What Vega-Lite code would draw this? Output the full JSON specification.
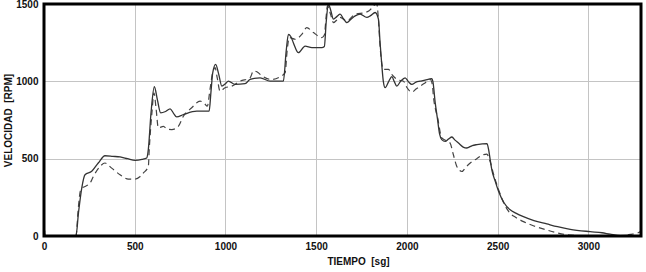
{
  "$schema": "https://vega.github.io/schema/vega-lite/v6.json",
  "width": 597,
  "height": 232,
  "autosize": {"type": "none"},
  "padding": {"left": 44, "top": 4, "right": 5, "bottom": 36},
  "background": "white",
  "config": {
    "view": {"stroke": null},
    "font": "Liberation Sans"
  },
  "datasets": {
    "solid": [
      {"t":0,"v":65},{"t":8,"v":0},{"t":176,"v":0},{"t":190,"v":150},{"t":208,"v":310},{"t":226,"v":396},{"t":263,"v":418},{"t":299,"v":472},{"t":336,"v":519},{"t":380,"v":515},{"t":419,"v":511},{"t":460,"v":500},{"t":502,"v":489},{"t":540,"v":495},{"t":566,"v":504},{"t":575,"v":560},{"t":590,"v":800},{"t":608,"v":965},{"t":625,"v":880},{"t":643,"v":796},{"t":670,"v":805},{"t":695,"v":822},{"t":713,"v":795},{"t":731,"v":770},{"t":768,"v":785},{"t":842,"v":807},{"t":910,"v":807},{"t":920,"v":930},{"t":930,"v":1056},{"t":946,"v":1110},{"t":962,"v":1050},{"t":980,"v":969},{"t":1000,"v":985},{"t":1016,"v":1001},{"t":1053,"v":980},{"t":1108,"v":985},{"t":1136,"v":1012},{"t":1191,"v":1023},{"t":1246,"v":1001},{"t":1319,"v":1001},{"t":1335,"v":1200},{"t":1347,"v":1304},{"t":1360,"v":1290},{"t":1374,"v":1250},{"t":1402,"v":1185},{"t":1439,"v":1228},{"t":1476,"v":1218},{"t":1531,"v":1218},{"t":1545,"v":1225},{"t":1555,"v":1380},{"t":1567,"v":1499},{"t":1580,"v":1460},{"t":1595,"v":1402},{"t":1615,"v":1420},{"t":1632,"v":1434},{"t":1650,"v":1405},{"t":1669,"v":1380},{"t":1690,"v":1400},{"t":1715,"v":1423},{"t":1742,"v":1434},{"t":1779,"v":1413},{"t":1800,"v":1425},{"t":1825,"v":1445},{"t":1843,"v":1402},{"t":1852,"v":1250},{"t":1862,"v":1099},{"t":1870,"v":1000},{"t":1880,"v":959},{"t":1900,"v":1000},{"t":1917,"v":1030},{"t":1930,"v":1000},{"t":1944,"v":969},{"t":1965,"v":1000},{"t":1990,"v":1023},{"t":2010,"v":995},{"t":2027,"v":980},{"t":2050,"v":995},{"t":2073,"v":1001},{"t":2100,"v":1008},{"t":2137,"v":1017},{"t":2143,"v":1000},{"t":2156,"v":861},{"t":2168,"v":760},{"t":2180,"v":660},{"t":2192,"v":623},{"t":2211,"v":612},{"t":2230,"v":628},{"t":2248,"v":640},{"t":2265,"v":620},{"t":2284,"v":601},{"t":2310,"v":575},{"t":2330,"v":569},{"t":2360,"v":585},{"t":2386,"v":591},{"t":2441,"v":597},{"t":2450,"v":560},{"t":2459,"v":493},{"t":2468,"v":428},{"t":2485,"v":360},{"t":2505,"v":290},{"t":2535,"v":215},{"t":2569,"v":169},{"t":2600,"v":148},{"t":2642,"v":125},{"t":2700,"v":100},{"t":2771,"v":78},{"t":2830,"v":60},{"t":2900,"v":43},{"t":3010,"v":28},{"t":3075,"v":21},{"t":3120,"v":12},{"t":3176,"v":3},{"t":3240,"v":5}
    ],
    "dashed": [
      {"t":0,"v":65},{"t":8,"v":0},{"t":176,"v":0},{"t":189,"v":180},{"t":200,"v":290},{"t":210,"v":310},{"t":226,"v":320},{"t":254,"v":342},{"t":272,"v":385},{"t":309,"v":450},{"t":336,"v":472},{"t":373,"v":439},{"t":419,"v":396},{"t":465,"v":368},{"t":502,"v":368},{"t":530,"v":385},{"t":547,"v":407},{"t":575,"v":450},{"t":580,"v":560},{"t":595,"v":800},{"t":606,"v":926},{"t":618,"v":820},{"t":630,"v":699},{"t":658,"v":709},{"t":680,"v":690},{"t":704,"v":688},{"t":740,"v":709},{"t":768,"v":774},{"t":814,"v":829},{"t":860,"v":872},{"t":885,"v":855},{"t":900,"v":839},{"t":915,"v":950},{"t":930,"v":1060},{"t":943,"v":1088},{"t":955,"v":1020},{"t":970,"v":937},{"t":998,"v":958},{"t":1035,"v":969},{"t":1081,"v":1001},{"t":1136,"v":1023},{"t":1154,"v":1067},{"t":1181,"v":1056},{"t":1191,"v":1045},{"t":1255,"v":1012},{"t":1301,"v":1030},{"t":1329,"v":1056},{"t":1340,"v":1200},{"t":1352,"v":1283},{"t":1384,"v":1272},{"t":1421,"v":1304},{"t":1448,"v":1347},{"t":1485,"v":1315},{"t":1531,"v":1283},{"t":1545,"v":1300},{"t":1555,"v":1420},{"t":1562,"v":1488},{"t":1580,"v":1430},{"t":1595,"v":1380},{"t":1632,"v":1413},{"t":1669,"v":1391},{"t":1715,"v":1434},{"t":1770,"v":1445},{"t":1800,"v":1465},{"t":1815,"v":1488},{"t":1834,"v":1499},{"t":1843,"v":1400},{"t":1852,"v":1228},{"t":1871,"v":1077},{"t":1898,"v":1077},{"t":1920,"v":1040},{"t":1950,"v":1010},{"t":1981,"v":1001},{"t":2000,"v":960},{"t":2027,"v":930},{"t":2050,"v":950},{"t":2073,"v":969},{"t":2100,"v":990},{"t":2128,"v":1012},{"t":2140,"v":980},{"t":2146,"v":904},{"t":2170,"v":760},{"t":2192,"v":634},{"t":2238,"v":601},{"t":2255,"v":530},{"t":2275,"v":450},{"t":2303,"v":417},{"t":2325,"v":445},{"t":2349,"v":472},{"t":2385,"v":500},{"t":2422,"v":526},{"t":2440,"v":530},{"t":2459,"v":480},{"t":2475,"v":410},{"t":2505,"v":300},{"t":2535,"v":210},{"t":2569,"v":147},{"t":2600,"v":120},{"t":2642,"v":93},{"t":2700,"v":65},{"t":2771,"v":39},{"t":2830,"v":20},{"t":2900,"v":6},{"t":3010,"v":0},{"t":3176,"v":0},{"t":3230,"v":10},{"t":3267,"v":17},{"t":3290,"v":30}
    ]
  },
  "layer": [
    {
      "data": {"name": "dashed"},
      "mark": {"type": "line", "color": "#444444", "strokeWidth": 1.2, "strokeDash": [6, 4], "clip": true, "interpolate": "monotone"},
      "encoding": {
        "x": {
          "field": "t", "type": "quantitative",
          "scale": {"domain": [0, 3290], "nice": false, "zero": false},
          "axis": {
            "values": [0, 500, 1000, 1500, 2000, 2500, 3000],
            "format": "d",
            "title": "TIEMPO\u00a0\u00a0[sg]",
            "titleFont": "Liberation Sans", "titleFontSize": 10, "titleFontWeight": "bold", "titleColor": "#111111",
            "titleX": 314, "titleY": 25, "titleBaseline": "middle", "titleAlign": "center",
            "labelFont": "Liberation Sans", "labelFontSize": 10, "labelFontWeight": "bold", "labelColor": "#111111",
            "labelPadding": 5, "tickSize": 0,
            "domain": false,
            "grid": true, "gridColor": "#c4c4c4", "gridWidth": 1, "labelFlush": false
          }
        },
        "y": {
          "field": "v", "type": "quantitative",
          "scale": {"domain": [0, 1500], "nice": false},
          "axis": {
            "values": [0, 500, 1000, 1500],
            "format": "d",
            "title": "VELOCIDAD\u00a0\u00a0[RPM]",
            "titleFont": "Liberation Sans", "titleFontSize": 10, "titleFontWeight": "bold", "titleColor": "#111111",
            "titleX": -36, "titleY": 116, "titleAngle": -90, "titleBaseline": "middle", "titleAlign": "center",
            "labelFont": "Liberation Sans", "labelFontSize": 10, "labelFontWeight": "bold", "labelColor": "#111111",
            "labelPadding": 6, "tickSize": 0,
            "domain": false,
            "grid": true, "gridColor": "#c4c4c4", "gridWidth": 1, "labelFlush": false
          }
        }
      }
    },
    {
      "data": {"name": "solid"},
      "mark": {"type": "line", "color": "#333333", "strokeWidth": 1.3, "clip": true, "interpolate": "monotone"},
      "encoding": {
        "x": {"field": "t", "type": "quantitative"},
        "y": {"field": "v", "type": "quantitative"}
      }
    },
    {
      "data": {"values": [{"x0": 0, "x1": 3290, "y0": 0, "y1": 1500}]},
      "mark": {"type": "rect", "fill": null, "fillOpacity": 0, "stroke": "#000000", "strokeWidth": 3},
      "encoding": {
        "x": {"field": "x0", "type": "quantitative"},
        "x2": {"field": "x1"},
        "y": {"field": "y0", "type": "quantitative"},
        "y2": {"field": "y1"}
      }
    }
  ]
}
